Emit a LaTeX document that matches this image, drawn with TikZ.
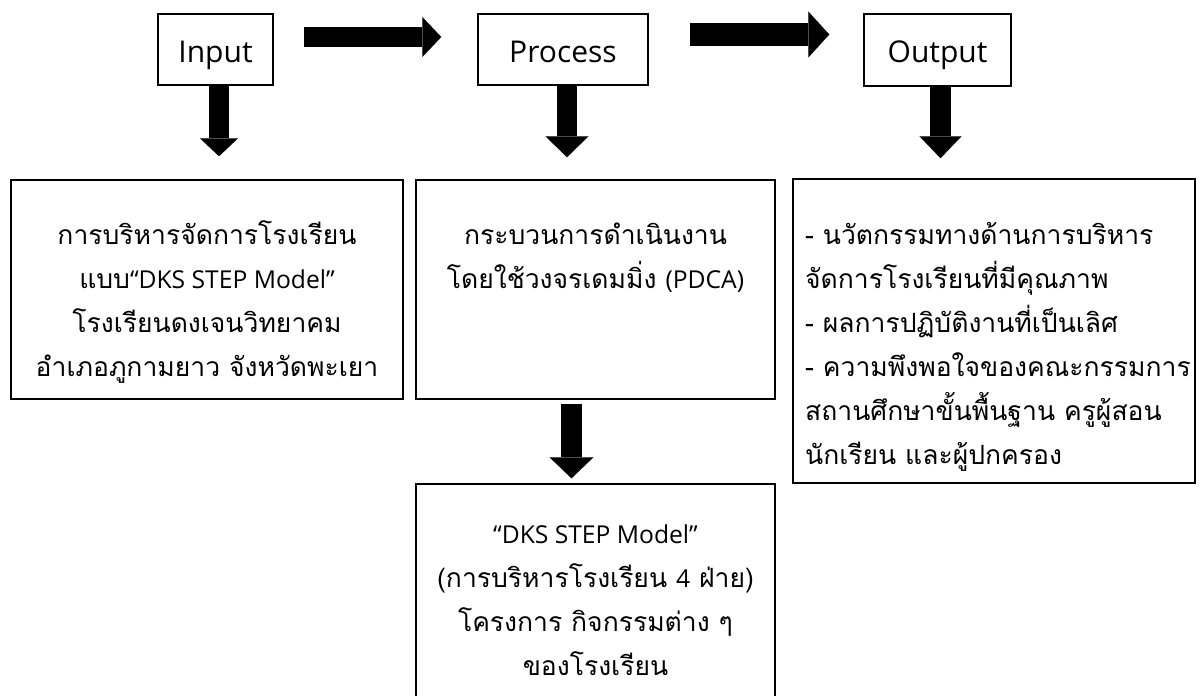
\documentclass[tikz,border=0pt]{standalone}
\usepackage{fontspec}
\setmainfont{Open Sans}
\newfontfamily\thaifont[Script=Thai]{Loma}
\newfontfamily\latfont[Scale=0.93]{Open Sans}
\usetikzlibrary{arrows.meta,calc}
\tikzset{
  box/.style={draw=black, line width=1.5pt, inner sep=0pt},
  hdr/.style={font=\fontsize{30}{36}\selectfont, inner sep=0pt},
  th/.style={font=\thaifont\fontsize{26.5}{44}\selectfont, inner sep=0pt},
  barrow/.style n args={3}{line width=#1, line cap=butt,
     -{Triangle[width=#2, length=#3, line width=0.1pt]}}
}
\begin{document}
\begin{tikzpicture}[x=1pt,y=-1pt]
\useasboundingbox (0,0) rectangle (1202,696);
\clip (0,0) rectangle (1202,696);
% top boxes
\node[box,minimum width=115pt,minimum height=71pt] (in) at (215.5,49.5) {};
\node[box,minimum width=170pt,minimum height=71pt] (pr) at (563,49.5) {};
\node[box,minimum width=147pt,minimum height=72pt] (out) at (937.5,50) {};
\node[hdr,anchor=base] (int) at ($(in.center)+(0,12.5)$) {Input};
\node[hdr,anchor=base] (prt) at ($(pr.center)+(0,12.5)$) {Process};
\node[hdr,anchor=base] (outt) at ($(out.center)+(0,12.5)$) {Output};
% lower boxes
\node[box,minimum width=392pt,minimum height=219pt] (lb) at (207,289.5) {};
\node[box,minimum width=359pt,minimum height=219pt] (mb) at (595.5,289.5) {};
\node[box,minimum width=402pt,minimum height=304pt] (rb) at (994,331) {};
\node[box,minimum width=359pt,minimum height=236pt] (bb) at (595.5,602) {};
% texts left
\node[th,anchor=base] (l1) at (207,244) {การบริหารจัดการโรงเรียน};
\node[th,anchor=base] (l2) at (207,288) {แบบ{\latfont “DKS STEP Model”}};
\node[th,anchor=base] (l3) at (207,332) {โรงเรียนดงเจนวิทยาคม};
\node[th,anchor=base] (l4) at (207,376) {อำเภอภูกามยาว จังหวัดพะเยา};
% texts middle
\node[th,anchor=base] (m1) at (595.5,244) {กระบวนการดำเนินงาน};
\node[th,anchor=base] (m2) at (595.5,288) {โดยใช้วงจรเดมมิ่ง {\latfont (PDCA)}};
% texts right
\node[th,anchor=base west] (r1) at (805,244) {- นวัตกรรมทางด้านการบริหาร};
\node[th,anchor=base west] (r2) at (805,288) {จัดการโรงเรียนที่มีคุณภาพ};
\node[th,anchor=base west] (r3) at (805,332) {- ผลการปฏิบัติงานที่เป็นเลิศ};
\node[th,anchor=base west] (r4) at (805,376) {- ความพึงพอใจของคณะกรรมการ};
\node[th,anchor=base west] (r5) at (805,420) {สถานศึกษาขั้นพื้นฐาน ครูผู้สอน};
\node[th,anchor=base west] (r6) at (805,464) {นักเรียน และผู้ปกครอง};
% texts bottom
\node[th,anchor=base] (b1) at (595.5,543) {{\latfont “DKS STEP Model”}};
\node[th,anchor=base] (b2) at (595.5,587) {(การบริหารโรงเรียน {\latfont 4} ฝ่าย)};
\node[th,anchor=base] (b3) at (595.5,631) {โครงการ กิจกรรมต่าง ๆ};
\node[th,anchor=base] (b4) at (595.5,675) {ของโรงเรียน};
% arrow end points
\coordinate (a1s) at ($(in.east)+(30,-12.5)$);
\coordinate (a1e) at ($(pr.west)+(-36,-12.5)$);
\coordinate (a2s) at ($(pr.east)+(41,-15)$);
\coordinate (a2e) at ($(out.west)+(-34,-15.5)$);
\coordinate (d1s) at ($(in.south)+(3.5,0)$);
\coordinate (d1e) at ($(lb.north)+(12,-23)$);
\coordinate (d2s) at ($(pr.south)+(4,0)$);
\coordinate (d2e) at ($(mb.north)+(-28.5,-22)$);
\coordinate (d3s) at ($(out.south)+(3,0)$);
\coordinate (d3e) at ($(rb.north)+(-53.5,-20)$);
\coordinate (d4s) at ($(mb.south)+(-24,4)$);
\coordinate (d4e) at ($(bb.north)+(-24,-5)$);
\draw[barrow={20pt}{40pt}{19pt}] (a1s) -- (a1e);
\draw[barrow={23pt}{46pt}{21pt}] (a2s) -- (a2e);
\draw[barrow={20pt}{38pt}{18pt}] (d1s) -- (d1e);
\draw[barrow={20pt}{43pt}{21pt}] (d2s) -- (d2e);
\draw[barrow={21pt}{42pt}{22pt}] (d3s) -- (d3e);
\draw[barrow={21pt}{44pt}{21pt}] (d4s) -- (d4e);
\end{tikzpicture}
\end{document}
